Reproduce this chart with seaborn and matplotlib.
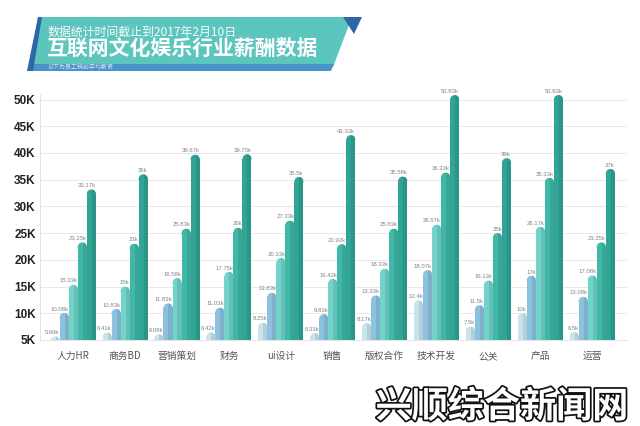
import numpy as np
import pandas as pd
import seaborn as sns
import matplotlib
matplotlib.use("Agg")
import matplotlib.pyplot as plt
from matplotlib.patches import Ellipse, Polygon, Rectangle
import matplotlib.patheffects as pe

# ---------------- data ----------------
categories = ['人力HR', '商务BD', '营销策划', '财务', 'ui设计', '销售',
              '版权合作', '技术开发', '公关', '产品', '运营']
tier1 = [5.66, 6.41, 6.08, 6.42, 8.25, 6.33, 8.17, 12.4, 7.5, 10, 6.5]
tier2 = [10.08, 10.83, 11.83, 11.03, 13.83, 9.83, 13.33, 18.07, 11.5, 17, 13.08]
tier3 = [15.33, 15, 16.58, 17.75, 20.33, 16.42, 18.33, 26.57, 16.13, 26.17, 17.08]
tier4 = [23.25, 23, 25.83, 26, 27.33, 22.92, 25.83, 36.33, 25, 35.33, 23.25]
tier5 = [33.17, 36, 39.67, 39.75, 35.5, 43.33, 35.58, 50.83, 39, 50.83, 37]
series_names = ['档1', '档2', '档3', '档4', '档5']
yticks = [5, 10, 15, 20, 25, 30, 35, 40, 45, 50]
ytick_labels = ['5K', '10K', '15K', '20K', '25K', '30K', '35K', '40K', '45K', '50K']
colors = ['#c8e5ee', '#8cc2df', '#71d3ca', '#3fb8a8', '#30a596']

sns.set_theme(style="white")
plt.rcParams['font.family'] = ['Noto Sans CJK SC', 'DejaVu Sans']

rows = []
for name, vals in zip(series_names, [tier1, tier2, tier3, tier4, tier5]):
    for c, v in zip(categories, vals):
        rows.append({'岗位': c, '薪资': v, '档': name})
df = pd.DataFrame(rows)

W, H = 640, 426
fig = plt.figure(figsize=(6.4, 4.26), dpi=100)
fig.patch.set_facecolor('white')

# axes placement (pixels)
ax_l, ax_r, ax_b = 40, 627, 340
ymin, ymax = 5, 51
px_per_k = (340 - 99.5) / 45
ax_t = ax_b - (ymax - ymin) * px_per_k
ax = fig.add_axes([ax_l / W, (H - ax_b) / H, (ax_r - ax_l) / W, (ax_b - ax_t) / H])

sns.barplot(data=df, x='岗位', y='薪资', hue='档', palette=colors, width=0.87,
            saturation=1, errorbar=None, legend=False, ax=ax, linewidth=0)

ax.set_ylim(ymin, ymax)
ax.set_xlim(-0.64, 10.67)
ax.set_yticks(yticks)
ax.set_yticklabels(ytick_labels, fontsize=8.5, fontweight='bold', color='#222222',
                   family=['Liberation Sans', 'DejaVu Sans'])
ax.tick_params(axis='both', length=0, pad=3)
ax.set_xticks(range(len(categories)))
ax.set_xticklabels(categories, fontsize=7, color='#555555')
ax.tick_params(axis='x', pad=8)
ax.set_xlabel('')
ax.set_ylabel('')
ax.grid(axis='y', color='#e8e8e8', linewidth=0.7)
ax.set_axisbelow(True)
for s in ['top', 'right']:
    ax.spines[s].set_visible(False)
ax.spines['left'].set_color('#e3e3e3')
ax.spines['bottom'].set_color('#e3e3e3')
ax.spines['left'].set_linewidth(0.7)
ax.spines['bottom'].set_linewidth(0.7)

fig.canvas.draw()

# rounded caps, shading, value labels
def darker(c, f=0.9):
    r, g, b = matplotlib.colors.to_rgb(c)
    return (r * f, g * f, b * f)

x_px = ax.transData.transform([(0, 0), (1, 0)])
px_per_x = x_px[1][0] - x_px[0][0]
for ci, cont in enumerate(ax.containers):
    col = colors[ci]
    dcol = darker(col)
    for bar in cont.patches:
        x = bar.get_x()
        w = bar.get_width()
        h = bar.get_height()
        r_px = w * px_per_x / 2
        ry = r_px / px_per_k
        body_top = h - ry
        bar.set_height(body_top)
        cap = Ellipse((x + w / 2, body_top), w, 2 * ry, facecolor=col,
                      edgecolor='none', zorder=bar.get_zorder())
        ax.add_patch(cap)
        shade = Rectangle((x + w * 0.55, 0), w * 0.45, body_top, facecolor=dcol,
                          edgecolor='none', zorder=bar.get_zorder() + 0.1)
        ax.add_patch(shade)
        shade2 = Rectangle((x + w * 0.55, body_top - ry), w * 0.45, 2 * ry,
                           facecolor=dcol, edgecolor='none',
                           zorder=bar.get_zorder() + 0.1)
        ax.add_patch(shade2)
        shade2.set_clip_path(cap)
        ax.text(x + w, h + 0.25, f"{h:g}k", ha='right', va='bottom',
                fontsize=4.3, color='#858585',
                family=['Liberation Sans', 'DejaVu Sans'], zorder=5)

# ---------------- banner ----------------
def P(x, y):
    return (x / W, 1 - y / H)

def poly(pts, color, z=1):
    fig.add_artist(Polygon([P(*p) for p in pts], closed=True, facecolor=color,
                           edgecolor='none', transform=fig.transFigure, zorder=z))

poly([(38, 17), (352, 17), (333, 67), (30, 67)], '#5cc5be', 1)
poly([(30, 64), (334, 64), (331, 71), (28, 71)], '#4a93c8', 2)
poly([(27, 71), (38, 17), (42, 17), (33, 71)], '#2f66a5', 3)
poly([(343, 17), (362, 17), (354, 34)], '#2f66a5', 3)

fig.text(*P(48, 32), '数据统计时间截止到2017年2月10日', fontsize=8.6, color='white',
         ha='left', va='center', alpha=0.95)
fig.text(*P(46, 48), '互联网文化娱乐行业薪酬数据', fontsize=15, color='white',
         fontweight='bold', ha='left', va='center')
fig.text(*P(47, 67.5), '以下为员工税前平均薪资', fontsize=4.3, color='#dbe8f5',
         ha='left', va='center')

# ---------------- watermark ----------------
t = fig.text(*P(502, 407), '兴顺综合新闻网', fontsize=26, color='white',
             fontweight='black', ha='center', va='center', zorder=10)
t.set_path_effects([pe.Stroke(linewidth=2.5, foreground='#111111'), pe.Normal()])

fig.savefig('out.png', dpi=100, facecolor='white')
